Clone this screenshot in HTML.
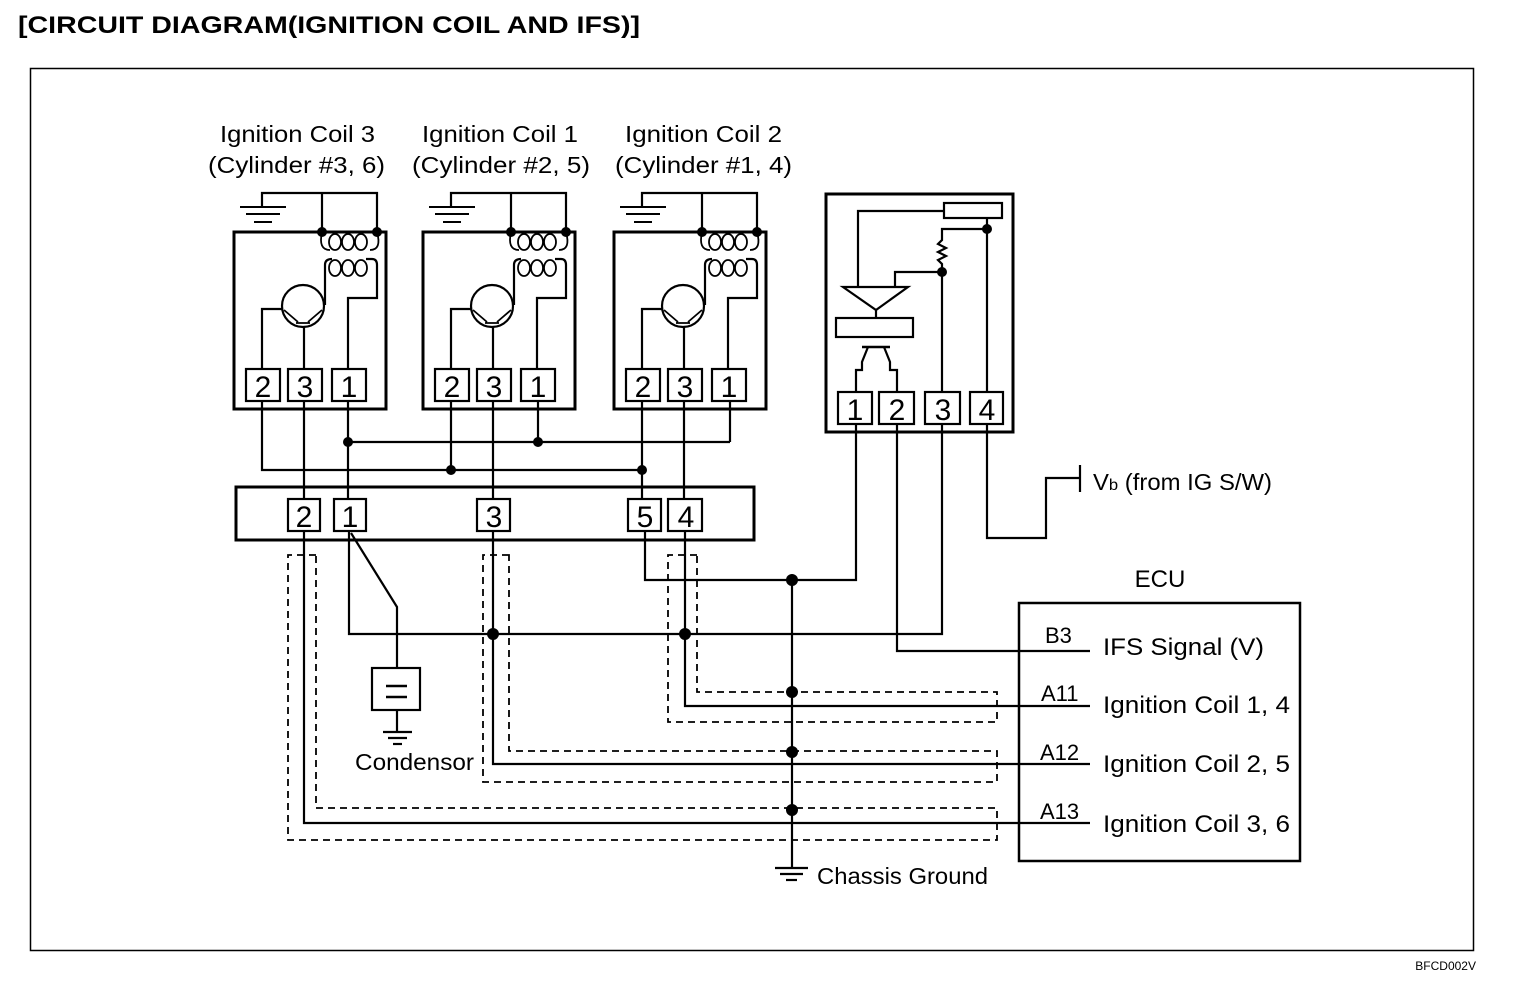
<!DOCTYPE html>
<html><head><meta charset="utf-8"><style>
html,body{margin:0;padding:0;background:#fff;}
svg{display:block;}
text{font-family:"Liberation Sans",Arial,sans-serif;fill:#000;}
</style></head><body>
<svg width="1520" height="992" viewBox="0 0 1520 992" xmlns="http://www.w3.org/2000/svg">
<defs>
<g id="coil">
  <polyline points="262,206 262,193 377,193 377,232" fill="none" stroke="#000" stroke-width="2.2"/>
  <line x1="322" y1="193" x2="322" y2="232" stroke="#000" stroke-width="2.2"/>
  <line x1="240" y1="207" x2="286" y2="207" stroke="#000" stroke-width="2"/>
  <line x1="246" y1="214" x2="280" y2="214" stroke="#000" stroke-width="2"/>
  <line x1="254" y1="222" x2="272" y2="222" stroke="#000" stroke-width="2"/>
  <rect x="234" y="232" width="152" height="177" fill="none" stroke="#000" stroke-width="3"/>
  <circle cx="322" cy="232" r="5" fill="#000"/>
  <circle cx="377" cy="232" r="5" fill="#000"/>
  <path d="M322,232 Q318,250 330,250 M377,232 Q382,250 370,250" fill="none" stroke="#000" stroke-width="1.8"/>
  <ellipse cx="335" cy="242" rx="6" ry="8" fill="none" stroke="#000" stroke-width="1.8"/>
  <ellipse cx="348" cy="242" rx="6" ry="8" fill="none" stroke="#000" stroke-width="1.8"/>
  <ellipse cx="361" cy="242" rx="6" ry="8" fill="none" stroke="#000" stroke-width="1.8"/>
  <ellipse cx="335" cy="268" rx="6" ry="8" fill="none" stroke="#000" stroke-width="1.8"/>
  <ellipse cx="348" cy="268" rx="6" ry="8" fill="none" stroke="#000" stroke-width="1.8"/>
  <ellipse cx="361" cy="268" rx="6" ry="8" fill="none" stroke="#000" stroke-width="1.8"/>
  <path d="M325,305 L325,265 Q325,259 332,259 M366,259 L372,259 Q377,259 377,265 L377,298 L348,298 L348,370" fill="none" stroke="#000" stroke-width="2.2"/>
  <circle cx="303" cy="306" r="21" fill="none" stroke="#000" stroke-width="2.2"/>
  <path d="M284,310 L298,322 M322,310 L308,322 M296,323 L310,323" fill="none" stroke="#000" stroke-width="1.8"/>
  <polyline points="262,370 262,309 282,309" fill="none" stroke="#000" stroke-width="2.2"/>
  <line x1="304" y1="327" x2="304" y2="370" stroke="#000" stroke-width="2.2"/>
  <rect x="246" y="369" width="34" height="32" fill="#fff" stroke="#000" stroke-width="2.2"/>
  <rect x="288" y="369" width="34" height="32" fill="#fff" stroke="#000" stroke-width="2.2"/>
  <rect x="332" y="369" width="34" height="32" fill="#fff" stroke="#000" stroke-width="2.2"/>
  <text x="263" y="397" font-size="30" text-anchor="middle">2</text>
  <text x="305" y="397" font-size="30" text-anchor="middle">3</text>
  <text x="349" y="397" font-size="30" text-anchor="middle">1</text>
</g>
</defs>

<text x="18" y="33" font-size="24" font-weight="bold" textLength="622" lengthAdjust="spacingAndGlyphs">[CIRCUIT DIAGRAM(IGNITION COIL AND IFS)]</text>
<rect x="30.5" y="68.5" width="1443" height="882" fill="none" stroke="#000" stroke-width="1.5"/>

<g font-size="23">
<text x="220" y="142" textLength="155" lengthAdjust="spacingAndGlyphs">Ignition Coil 3</text>
<text x="208" y="173" textLength="177" lengthAdjust="spacingAndGlyphs">(Cylinder #3, 6)</text>
<text x="422" y="142" textLength="156" lengthAdjust="spacingAndGlyphs">Ignition Coil 1</text>
<text x="412" y="173" textLength="178" lengthAdjust="spacingAndGlyphs">(Cylinder #2, 5)</text>
<text x="625" y="142" textLength="157" lengthAdjust="spacingAndGlyphs">Ignition Coil 2</text>
<text x="615" y="173" textLength="177" lengthAdjust="spacingAndGlyphs">(Cylinder #1, 4)</text>
</g>

<use href="#coil"/>
<use href="#coil" transform="translate(189,0)"/>
<use href="#coil" transform="translate(380,0)"/>

<g stroke="#000" stroke-width="2.2" fill="none">
  <polyline points="262,401 262,470 642,470"/>
  <line x1="348" y1="401" x2="348" y2="500"/>
  <line x1="348" y1="442" x2="730" y2="442"/>
  <line x1="730" y1="401" x2="730" y2="442"/>
  <line x1="538" y1="401" x2="538" y2="442"/>
  <line x1="451" y1="401" x2="451" y2="470"/>
  <line x1="642" y1="401" x2="642" y2="500"/>
  <line x1="304" y1="401" x2="304" y2="500"/>
  <line x1="493" y1="401" x2="493" y2="500"/>
  <line x1="684" y1="401" x2="684" y2="500"/>
  <rect x="236" y="487" width="518" height="53" stroke-width="3"/>
  <polyline points="304,531 304,823 1090,823"/>
  <polyline points="349,531 349,634 942,634 942,424"/>
  <polyline points="351,533 397,607 397,668"/>
  <polyline points="493,531 493,764 1090,764"/>
  <polyline points="645,531 645,580 856,580 856,424"/>
  <polyline points="685,531 685,706 1090,706"/>
  <polyline points="897,424 897,651 1090,651"/>
  <line x1="792" y1="580" x2="792" y2="868"/>
  <rect x="372" y="668" width="48" height="42"/>
  <line x1="386" y1="686" x2="407" y2="686" stroke-width="2.5"/>
  <line x1="386" y1="697" x2="407" y2="697" stroke-width="2.5"/>
  <line x1="397" y1="710" x2="397" y2="732"/>
  <line x1="383" y1="732" x2="412" y2="732"/>
  <line x1="388" y1="738" x2="407" y2="738"/>
  <line x1="393" y1="744" x2="402" y2="744"/>
  <line x1="775" y1="868" x2="808" y2="868"/>
  <line x1="780" y1="874" x2="803" y2="874"/>
  <line x1="786" y1="880" x2="797" y2="880"/>
  <polyline points="987,424 987,538 1046,538 1046,478 1080,478"/>
  <line x1="1080" y1="465" x2="1080" y2="492"/>
  <rect x="1019" y="603" width="281" height="258" stroke-width="2.5"/>
</g>

<g stroke="#000" stroke-width="1.8" fill="none" stroke-dasharray="7,5">
  <polygon points="316,555 288,555 288,840 997,840 997,808 316,808"/>
  <polygon points="509,555 483,555 483,782 997,782 997,751 509,751"/>
  <polygon points="697,555 668,555 668,722 997,722 997,692 697,692"/>
</g>

<g stroke="#000" stroke-width="2.2" fill="#fff">
  <rect x="288" y="499" width="32" height="32"/>
  <rect x="334" y="499" width="32" height="32"/>
  <rect x="477" y="499" width="33" height="32"/>
  <rect x="628" y="499" width="33" height="32"/>
  <rect x="668" y="499" width="34" height="32"/>
</g>
<g font-size="30" text-anchor="middle">
  <text x="304" y="527">2</text>
  <text x="350" y="527">1</text>
  <text x="494" y="527">3</text>
  <text x="645" y="527">5</text>
  <text x="686" y="527">4</text>
</g>

<g fill="#000">
  <circle cx="348" cy="442" r="5"/>
  <circle cx="538" cy="442" r="5"/>
  <circle cx="451" cy="470" r="5"/>
  <circle cx="642" cy="470" r="5"/>
  <circle cx="493" cy="634" r="6"/>
  <circle cx="685" cy="634" r="6"/>
  <circle cx="792" cy="580" r="6"/>
  <circle cx="792" cy="692" r="6"/>
  <circle cx="792" cy="752" r="6"/>
  <circle cx="792" cy="810" r="6"/>
</g>

<g stroke="#000" stroke-width="2.2" fill="none">
  <rect x="826" y="194" width="187" height="238" stroke-width="3"/>
  <rect x="944" y="203" width="58" height="15"/>
  <polyline points="944,211 858,211 858,287"/>
  <polygon points="843,287 908,287 876,310"/>
  <line x1="876" y1="310" x2="876" y2="318"/>
  <rect x="836" y="318" width="77" height="19"/>
  <line x1="862" y1="347" x2="890" y2="347" stroke-width="2.5"/>
  <polyline points="868,347 862,362 862,370 856,370 856,393"/>
  <polyline points="884,347 890,362 890,370 897,370 897,393"/>
  <line x1="987" y1="218" x2="987" y2="393"/>
  <polyline points="987,229 942,229 942,240 938,244 946,248 938,252 946,256 938,260 942,264 942,393"/>
  <polyline points="942,272 895,272 895,287"/>
</g>
<circle cx="987" cy="229" r="5" fill="#000"/>
<circle cx="942" cy="272" r="5" fill="#000"/>
<g stroke="#000" stroke-width="2.2" fill="#fff">
  <rect x="838" y="392" width="34" height="32"/>
  <rect x="879" y="392" width="35" height="32"/>
  <rect x="925" y="392" width="35" height="32"/>
  <rect x="970" y="392" width="33" height="32"/>
</g>
<g font-size="30" text-anchor="middle">
  <text x="855" y="420">1</text>
  <text x="897" y="420">2</text>
  <text x="943" y="420">3</text>
  <text x="987" y="420">4</text>
</g>

<text x="1093" y="490" font-size="23" textLength="179" lengthAdjust="spacingAndGlyphs">V<tspan font-size="16">b</tspan> (from IG S/W)</text>
<text x="1160" y="587" font-size="24" text-anchor="middle">ECU</text>
<g font-size="22">
  <text x="1045" y="643">B3</text>
  <text x="1041" y="701">A11</text>
  <text x="1040" y="760">A12</text>
  <text x="1040" y="819">A13</text>
</g>
<g font-size="24">
  <text x="1103" y="655" textLength="161" lengthAdjust="spacingAndGlyphs">IFS Signal (V)</text>
  <text x="1103" y="713" textLength="187" lengthAdjust="spacingAndGlyphs">Ignition Coil 1, 4</text>
  <text x="1103" y="772" textLength="187" lengthAdjust="spacingAndGlyphs">Ignition Coil 2, 5</text>
  <text x="1103" y="832" textLength="187" lengthAdjust="spacingAndGlyphs">Ignition Coil 3, 6</text>
</g>
<text x="355" y="770" font-size="23" textLength="119" lengthAdjust="spacingAndGlyphs">Condensor</text>
<text x="817" y="884" font-size="23" textLength="171" lengthAdjust="spacingAndGlyphs">Chassis Ground</text>
<text x="1476" y="970" font-size="12" text-anchor="end">BFCD002V</text>
</svg>
</body></html>
